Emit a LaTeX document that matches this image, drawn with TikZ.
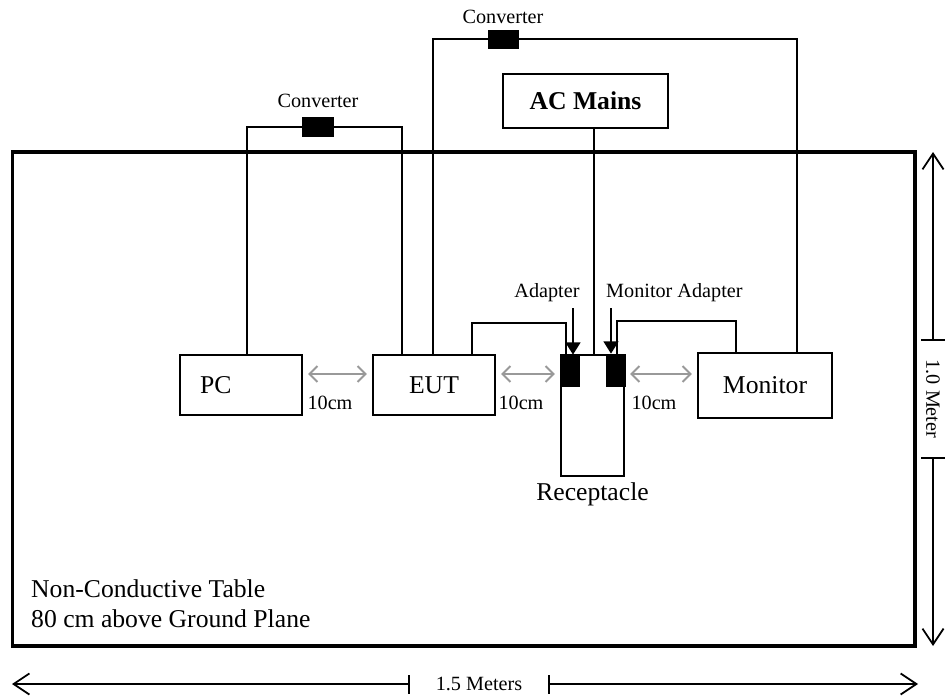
\documentclass[tikz,border=0pt]{standalone}
\usepackage{fontspec}
\setmainfont{Liberation Serif}
\usetikzlibrary{calc,arrows.meta}

\begin{document}
\begin{tikzpicture}[x=0.02cm,y=-0.02cm,
  big/.style={font=\fontsize{14.6}{17}\selectfont},
  small/.style={font=\fontsize{11.5}{13}\selectfont},
  box/.style={draw,line width=1pt,inner sep=0pt,big},
  plug/.style={fill=black,draw=black,inner sep=0pt},
  wire/.style={line width=1pt},
  gap/.style={{Straight Barb[length=4.5pt,width=9pt]}-{Straight Barb[length=4.5pt,width=9pt]},
    black!40,line width=1.1pt,shorten <=3pt,shorten >=3pt},
  dim/.style={-{Straight Barb[length=9pt,width=12pt]},line width=1pt},
  pointer/.style={-{Triangle[length=7pt,width=8.5pt]},line width=1pt}]

  \useasboundingbox (0,0) rectangle (946,696);

  % table
  \node[draw,line width=1.8pt,minimum width=18.06cm,minimum height=9.88cm] (table) at (463.5,399) {};
  \node[big,align=left,anchor=west] (tbl) at (25,604) {Non-Conductive Table\\80 cm above Ground Plane};

  % equipment
  \node[box,text width=1.64cm,inner xsep=0.4cm,minimum height=1.2cm,align=left] (pc) at (241,385) {PC};
  \node[box,minimum width=2.44cm,minimum height=1.2cm] (eut) at (434,385) {EUT};
  \node[box,minimum width=2.68cm,minimum height=1.3cm] (mon) at (765,385.5) {Monitor};
  \node[box,minimum width=1.26cm,minimum height=2.42cm,label={[big]below:Receptacle}] (rec) at (592.5,415.5) {};
  \node[box,font=\fontsize{14.6}{17}\selectfont\bfseries,minimum width=3.3cm,minimum height=1.08cm] (acm) at (585.5,101) {AC Mains};

  % adapters and converters
  \node[plug,minimum width=0.36cm,minimum height=0.62cm] (adp) at (570,370.5) {};
  \node[plug,minimum width=0.38cm,minimum height=0.64cm] (madp) at (615.5,370) {};
  \node[plug,minimum width=0.62cm,minimum height=0.38cm,label={[small,label distance=2pt]above:Converter}] (conv1) at (318,127) {};
  \node[plug,minimum width=0.6cm,minimum height=0.36cm,label={[small]above:Converter}] (conv2) at (503,39) {};

  % cables
  \draw[wire] (247,0 |- pc.north) |- (conv1.west);
  \draw[wire] (conv1.east) -| (402,0 |- eut.north);
  \draw[wire] (433,0 |- eut.north) |- (conv2.west);
  \draw[wire] (conv2.east) -| (797,0 |- mon.north);
  \draw[wire] (594,0 |- acm.south) -- (594,0 |- rec.north);
  \coordinate (eutbend) at (566,323);
  \draw[wire] (472,0 |- eut.north) |- (eutbend) -- (eutbend |- adp.north);
  \coordinate (monbend) at (736,321);
  \draw[wire] (617,0 |- madp.north) |- (monbend) -- (monbend |- mon.north);

  % adapter labels
  \node[small] (adplbl) at (547,293) {Adapter};
  \node[small,anchor=west] (madplbl) at (600,293) {Monitor Adapter};
  \coordinate (adptail) at (573,308);
  \coordinate (madptail) at (611,308);
  \draw[pointer] (adptail) -- (adptail |- adp.north);
  \draw[pointer] (madptail) -- (madptail |- madp.north);

  % 10cm spacings
  \draw[gap] (pc.east |- 0,374) -- (eut.west |- 0,374);
  \draw[gap] (eut.east |- 0,374) -- (rec.west |- 0,374);
  \draw[gap] (rec.east |- 0,374) -- (mon.west |- 0,374);
  \node[small] (sp1) at (330,403) {10cm};
  \node[small] (sp2) at (521,403) {10cm};
  \node[small] (sp3) at (654,403) {10cm};

  % dimensions
  \coordinate (rtop) at (933,152);
  \coordinate (rbot) at (933,646);
  \node[small,rotate=-90,inner xsep=0.39cm] (hdim) at (933,399) {1.0 Meter};
  \draw[dim] (hdim.west) -- (rtop);
  \draw[dim] (hdim.east) -- (rbot);
  \draw[wire] (921,0 |- hdim.west) -- (945,0 |- hdim.west);
  \draw[wire] (921,0 |- hdim.east) -- (945,0 |- hdim.east);

  \coordinate (bleft) at (12,684);
  \coordinate (bright) at (918,684);
  \node[small,inner xsep=0.53cm] (wdim) at (479,684) {1.5 Meters};
  \draw[dim] (wdim.west) -- (bleft);
  \draw[dim] (wdim.east) -- (bright);
  \draw[wire] (wdim.west |- 0,675) -- (wdim.west |- 0,694);
  \draw[wire] (wdim.east |- 0,675) -- (wdim.east |- 0,694);
\end{tikzpicture}
\end{document}
